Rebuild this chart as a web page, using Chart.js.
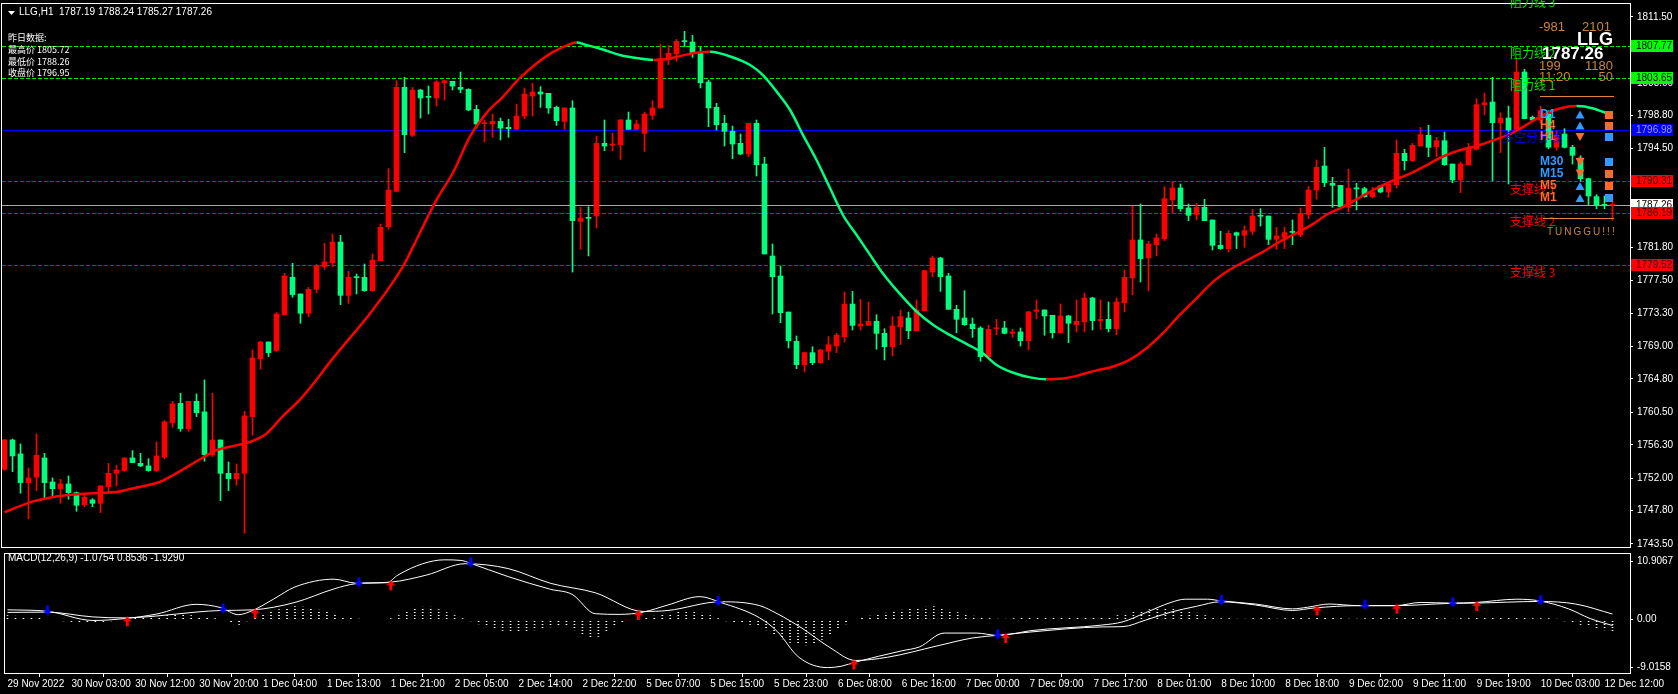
<!DOCTYPE html>
<html>
<head>
<meta charset="utf-8">
<script src="https://cdn.jsdelivr.net/npm/chart.js@4.4.0/dist/chart.umd.min.js"></script>
<style>
html,body{margin:0;padding:0;background:#000;}
#wrap{position:relative;width:1678px;height:694px;background:#000;overflow:hidden;}
#main{position:absolute;left:0;top:0;}
#macd{position:absolute;left:0;top:549px;}
</style>
</head>
<body>
<div id="wrap">
<canvas id="main" width="1678" height="549"></canvas>
<canvas id="macd" width="1678" height="145"></canvas>
</div>
<script>
// ---- data (H1 bars, index 0 = first bar on the left) ----
const xLabels = ['29 Nov 2022','30 Nov 03:00','30 Nov 12:00','30 Nov 20:00','1 Dec 04:00','1 Dec 13:00',
  '1 Dec 21:00','2 Dec 05:00','2 Dec 14:00','2 Dec 22:00','5 Dec 07:00','5 Dec 15:00','5 Dec 23:00',
  '6 Dec 08:00','6 Dec 16:00','7 Dec 00:00','7 Dec 09:00','7 Dec 17:00','8 Dec 01:00','8 Dec 10:00',
  '8 Dec 18:00','9 Dec 02:00','9 Dec 11:00','9 Dec 19:00','10 Dec 03:00','12 Dec 12:00'];

const opens = [
  1753.14,1756.92,1755.12,1751.42,1752.11,1754.60,1751.50,1750.64,1751.25,1750.13,
  1748.58,1749.18,1748.75,1750.90,1752.62,1752.97,1754.60,1753.91,1753.57,1752.97,
  1754.69,1759.16,1761.65,1758.39,1761.91,1760.54,1755.03,1756.92,1752.62,1751.93,
  1752.62,1759.93,1767.42,1769.57,1768.45,1773.10,1777.91,1775.76,1773.27,1776.36,
  1779.29,1779.80,1782.46,1775.58,1777.95,1777.91,1776.19,1780.06,1784.44,1789.00,
  1802.42,1796.23,1802.08,1801.18,1801.05,1803.02,1803.20,1802.42,1802.16,1799.58,
  1797.74,1797.69,1798.03,1797.26,1797.00,1798.72,1801.30,1801.82,1801.65,1799.84,
  1798.03,1799.76,1785.13,1785.60,1785.82,1795.20,1794.94,1795.02,1798.21,1797.00,
  1796.49,1798.81,1799.76,1806.03,1806.72,1808.38,1808.27,1806.89,1803.11,1799.84,
  1797.78,1796.74,1795.20,1793.82,1797.78,1792.53,1780.66,1778.08,1773.43,1769.65,
  1766.64,1768.19,1766.89,1768.36,1769.05,1770.25,1774.46,1771.63,1771.71,1772.23,
  1770.68,1768.96,1771.54,1772.66,1771.02,1773.60,1778.59,1780.40,1778.08,1773.78,
  1772.66,1771.88,1771.37,1767.67,1771.27,1771.37,1770.68,1770.86,1769.74,1773.52,
  1773.70,1773.01,1770.77,1772.92,1771.80,1772.15,1775.24,1772.32,1772.49,1771.29,
  1774.64,1777.82,1782.73,1780.41,1782.13,1782.90,1787.89,1789.44,1786.86,1786.00,
  1786.94,1785.31,1782.04,1781.61,1783.67,1783.33,1783.85,1785.85,1785.82,1782.81,
  1782.99,1783.80,1783.42,1786.00,1789.18,1792.27,1790.04,1789.78,1786.94,1789.38,
  1789.35,1788.32,1789.69,1788.92,1789.86,1793.91,1792.96,1794.85,1796.23,1794.77,
  1795.54,1792.53,1790.47,1792.44,1794.42,1800.19,1800.53,1797.86,1798.47,1797.00,
  1804.40,1798.55,1798.20,1799.00,1794.68,1796.40,1794.68,1793.30,1790.64,1788.32,
  1787.30,1787.19];
const highs = [
  1757.00,1757.05,1756.41,1753.31,1757.70,1755.20,1752.02,1751.85,1752.28,1750.21,
  1750.04,1749.35,1750.99,1753.91,1753.65,1754.60,1755.55,1755.20,1754.51,1756.67,
  1759.42,1761.91,1762.94,1761.91,1762.86,1764.67,1762.94,1756.92,1754.08,1753.83,
  1760.62,1768.54,1769.65,1769.57,1773.35,1778.43,1779.72,1775.76,1776.62,1779.55,
  1782.30,1783.50,1783.33,1778.68,1778.34,1779.63,1780.92,1784.79,1791.93,1803.28,
  1803.71,1802.42,1802.16,1802.59,1803.28,1803.37,1803.20,1804.40,1802.25,1800.10,
  1798.21,1798.98,1798.46,1798.29,1800.27,1802.34,1802.94,1802.51,1801.65,1800.01,
  1799.76,1800.70,1786.94,1787.02,1796.14,1798.21,1796.49,1798.29,1799.24,1798.21,
  1799.24,1800.70,1808.01,1807.84,1808.62,1809.65,1809.13,1807.58,1803.37,1800.36,
  1798.81,1797.43,1796.40,1797.78,1798.21,1793.39,1782.21,1779.37,1773.43,1770.34,
  1768.27,1768.96,1768.62,1770.25,1770.68,1776.01,1776.10,1775.07,1774.72,1773.09,
  1771.28,1772.83,1773.69,1773.43,1774.98,1778.77,1780.66,1780.49,1778.42,1774.29,
  1776.19,1772.66,1771.54,1771.72,1772.49,1772.23,1771.20,1771.37,1773.52,1774.99,
  1773.70,1773.01,1774.47,1773.01,1774.99,1775.85,1775.33,1774.99,1774.73,1775.24,
  1778.86,1787.11,1787.37,1782.56,1783.50,1789.61,1790.30,1789.95,1787.37,1787.46,
  1787.98,1785.31,1783.85,1783.93,1783.76,1784.53,1786.68,1786.77,1785.82,1784.36,
  1784.36,1785.31,1786.86,1789.60,1793.05,1794.68,1790.81,1789.78,1791.84,1790.04,
  1789.52,1789.52,1789.78,1790.29,1795.63,1794.42,1795.20,1797.26,1797.52,1795.97,
  1796.66,1792.53,1792.79,1795.20,1800.96,1801.65,1803.71,1799.15,1800.01,1806.20,
  1804.75,1798.72,1800.00,1799.40,1796.80,1797.09,1794.94,1793.60,1790.72,1788.57,
  1788.40,1788.24];
const lows = [
  1753.00,1752.84,1750.04,1746.77,1750.39,1749.44,1749.61,1748.75,1749.27,1747.72,
  1748.32,1748.32,1747.55,1750.21,1750.99,1752.88,1754.00,1753.48,1752.88,1752.88,
  1754.51,1758.56,1758.04,1758.04,1759.94,1754.17,1754.77,1749.10,1750.39,1751.07,
  1744.88,1757.53,1766.04,1767.68,1768.36,1773.10,1775.33,1771.98,1772.84,1775.93,
  1778.94,1779.28,1774.38,1774.55,1775.76,1776.10,1776.10,1780.06,1784.10,1788.92,
  1793.99,1796.06,1798.46,1798.98,1800.01,1800.79,1802.08,1801.73,1799.41,1797.17,
  1795.37,1795.97,1795.63,1795.97,1797.00,1798.38,1798.72,1799.84,1799.07,1797.52,
  1797.00,1778.59,1781.52,1780.66,1784.27,1794.25,1794.25,1793.13,1797.00,1797.00,
  1794.16,1798.29,1799.76,1805.35,1805.78,1807.67,1806.29,1802.34,1797.35,1796.92,
  1794.85,1793.22,1793.73,1793.48,1790.98,1780.92,1773.17,1772.06,1768.79,1766.12,
  1765.69,1766.64,1766.81,1767.24,1768.19,1769.56,1771.11,1771.11,1771.71,1768.62,
  1767.24,1767.76,1769.22,1769.99,1771.02,1773.60,1777.99,1776.10,1773.78,1770.77,
  1771.71,1770.16,1767.07,1767.67,1770.51,1770.60,1770.17,1769.05,1768.53,1772.58,
  1770.43,1770.08,1770.77,1769.48,1770.86,1770.86,1771.11,1771.20,1770.86,1770.51,
  1773.44,1775.67,1777.31,1776.19,1780.66,1782.64,1786.17,1786.43,1785.22,1785.31,
  1785.22,1781.44,1781.52,1781.18,1781.61,1781.78,1783.42,1784.53,1782.13,1781.52,
  1781.61,1782.13,1783.16,1785.48,1788.00,1789.61,1786.94,1786.94,1786.34,1786.60,
  1788.23,1788.14,1788.83,1788.23,1789.43,1791.76,1792.87,1794.85,1793.48,1793.48,
  1792.36,1790.12,1788.83,1792.44,1794.34,1798.90,1790.38,1793.99,1789.95,1796.83,
  1798.38,1798.00,1797.80,1794.50,1794.30,1794.60,1792.53,1790.30,1787.28,1786.77,
  1786.77,1785.27];
const closes = [
  1756.92,1754.86,1751.42,1752.02,1754.94,1751.42,1750.64,1751.25,1750.13,1748.49,
  1749.53,1748.75,1750.99,1752.62,1753.05,1754.60,1754.00,1753.57,1752.97,1754.86,
  1759.25,1761.57,1758.39,1761.91,1760.45,1755.03,1756.92,1752.62,1751.93,1752.62,
  1760.02,1767.50,1769.57,1768.19,1773.18,1778.08,1775.68,1773.27,1776.36,1779.46,
  1779.89,1782.46,1775.58,1777.91,1777.87,1776.19,1780.14,1784.36,1789.17,1802.42,
  1796.31,1802.08,1801.05,1801.13,1803.11,1803.28,1802.59,1802.16,1799.50,1797.69,
  1797.80,1798.03,1797.17,1797.09,1798.72,1801.56,1801.82,1801.56,1799.76,1798.12,
  1799.76,1785.22,1785.56,1785.52,1795.20,1794.85,1795.11,1798.21,1797.00,1797.69,
  1798.98,1799.76,1806.12,1806.81,1808.36,1808.32,1806.81,1803.02,1799.76,1797.60,
  1796.74,1795.11,1793.82,1797.78,1792.44,1780.92,1777.99,1773.35,1769.73,1766.64,
  1768.19,1766.89,1768.53,1769.22,1770.42,1774.46,1771.71,1771.88,1772.23,1770.68,
  1768.96,1771.63,1772.83,1771.02,1773.69,1778.77,1780.40,1777.99,1773.78,1772.49,
  1771.80,1771.28,1767.67,1771.20,1771.31,1770.68,1770.86,1769.74,1773.44,1773.70,
  1772.92,1770.77,1772.92,1771.98,1772.23,1775.24,1772.32,1772.49,1771.29,1774.73,
  1777.91,1782.73,1780.32,1782.21,1782.99,1788.06,1789.44,1786.77,1785.91,1786.94,
  1785.22,1782.04,1781.61,1783.59,1783.33,1783.93,1785.82,1785.79,1782.81,1783.24,
  1783.67,1783.70,1786.17,1789.18,1792.10,1790.12,1789.78,1787.03,1789.43,1789.32,
  1788.32,1788.92,1788.92,1789.95,1793.91,1792.96,1794.94,1796.32,1794.68,1795.54,
  1792.44,1790.47,1792.53,1794.68,1800.19,1800.44,1797.86,1798.47,1796.92,1804.40,
  1798.38,1798.21,1799.40,1794.70,1796.23,1794.68,1793.65,1790.64,1788.40,1787.20,
  1787.20,1787.26];

// smoothed moving average, read at these bar positions
const maIdx = [0,3.6,7.7,11.9,14,16.1,19.4,21.1,24.4,26.5,28.6,30.2,32.7,34.8,36.9,39,40.7,46.1,49.8,51.9,
  54,56.1,58.2,60.25,62.3,64.4,66.5,68.6,70.7,71.5,72.7,74.8,76.9,79,81.1,82.7,84.8,86.5,88.2,91,
  93.2,94.8,96.5,98.2,99.8,101.5,103.2,104.8,106.5,108.2,109.8,111.9,114,116.1,118.2,120.3,122.3,124,126.1,128.2,
  130.25,132.3,134.4,136.5,138.6,140.7,142.75,144.8,146.9,149,151.1,153.1,155.2,157.3,159.4,161.5,163.6,165.2,167.3,169.4,
  171.5,173.6,175.7,177.8,179.8,181.9,184,186.1,188.2,190.2,192.3,194.4,196.5,198.6,200.3];
const maVal = [1747.6,1749.0,1749.8,1750.1,1750.2,1750.7,1751.5,1752.4,1754.4,1755.6,1756.15,1756.5,1757.7,1760.0,1762.1,1764.7,1767.0,1773.8,1779.3,1783.6,
  1787.9,1791.5,1796.1,1799.1,1801.2,1803.6,1805.5,1807.0,1808.0,1808.2,1807.9,1807.3,1806.6,1806.2,1805.95,1806.05,1806.55,1806.9,1807.0,1806.3,
  1805.3,1804.0,1801.9,1799.5,1796.3,1793.05,1789.4,1785.95,1783.4,1780.8,1778.4,1775.8,1773.5,1771.75,1770.45,1769.3,1768.1,1766.6,1765.6,1765.0,
  1764.75,1764.85,1765.3,1765.9,1766.4,1767.3,1768.75,1770.7,1773.05,1775.2,1777.35,1778.85,1780.05,1781.2,1782.5,1783.6,1784.8,1785.95,1787.0,1788.2,
  1789.4,1790.4,1791.3,1792.4,1793.5,1794.3,1794.85,1795.6,1796.4,1797.55,1798.85,1799.7,1800.0,1799.7,1799.05];

// MACD(12,26,9): main line, signal line, histogram
const macdIdx = [0,4.9,10.7,14.7,18.7,23.6,26.7,28.9,30.7,33.3,36,40.9,43.6,47.5,48.9,52,54.7,56.9,57.8,62.7,
  68,70.7,73.6,76.7,79.6,82.7,86.7,89.3,94.2,96.4,99.1,102.7,104.4,106.2,112,114.2,117.3,121.3,124,125.3,
  128,137,139.7,142.5,145.7,147.5,150.3,151.9,156.3,160.9,162.8,165.5,169.2,173.8,177,180.7,183.9,189,191.8,195.5,198.2,201];
const macdVal = [1.56,1.34,-0.22,0.10,0.86,2.48,1.93,0.75,1.45,3.34,5.39,6.69,6.04,6.10,7.39,9.28,9.93,9.82,9.44,7.12,
  5.0,4.15,0.91,0.80,1.18,2.37,3.77,2.80,0.21,-2.06,-6.38,-8.11,-7.89,-7.19,-5.30,-4.65,-2.33,-2.33,-2.71,-2.60,
  -1.95,-1.0,-0.44,1.07,2.80,3.34,3.34,3.07,2.53,1.72,1.99,2.53,2.26,2.26,2.80,2.69,2.80,3.34,3.07,1.72,0.10,-1.0754];
const sigIdx = [0,4.9,10.7,14.7,18.7,23.6,26.7,30.7,36,40.9,43.6,48,52.5,57.3,62.7,68,73.6,79.6,82.7,89.3,
  94.2,96.4,99.5,103,106.2,110.2,116.4,120.9,124,128,137.2,139.7,142.5,145.7,148.9,151.9,156.3,160.9,163.7,169.2,
  173.8,180.7,183.9,191.8,196.4,201];
const sigVal = [1.13,1.18,0.37,0.21,0.53,1.18,1.45,1.56,2.80,5.07,5.93,6.20,7.39,9.28,8.47,6.0,4.42,1.29,1.45,2.91,
  2.26,0.91,-1.52,-4.76,-6.92,-6.38,-4.49,-3.14,-2.71,-2.17,-1.3,-1.25,-0.17,1.18,2.15,2.91,2.37,1.45,1.88,2.26,
  2.26,2.64,2.69,2.96,2.53,0.8536];
const hist = [
  0.6,0.5,0.4,0.3,0.2,-0.1,-0.2,-0.3,-0.4,-0.5,
  -0.5,-0.5,-0.4,-0.3,-0.1,0.1,0.2,0.3,0.4,0.5,
  0.6,0.7,0.7,0.6,0.4,0.2,0.1,-0.2,-0.6,-0.9,
  -0.3,0.3,0.8,1.2,1.6,1.9,2.1,2.0,1.8,1.5,
  1.2,0.8,0.4,0.2,0.0,-0.1,-0.1,-0.1,0.1,0.6,
  1.2,1.7,2.0,2.0,1.6,1.1,0.6,0.1,-0.3,-0.8,
  -1.2,-1.6,-1.9,-2.1,-2.1,-2.0,-1.8,-1.6,-1.3,-1.1,
  -1.2,-1.8,-2.6,-3.2,-2.9,-2.0,-1.2,-0.6,-0.2,0.0,
  0.2,0.5,0.8,1.0,1.2,1.3,1.3,1.0,0.6,0.1,
  -0.3,-0.5,-0.7,-0.9,-1.2,-1.8,-2.6,-3.3,-3.9,-4.2,
  -4.3,-4.0,-3.4,-2.5,-1.6,-0.8,-0.2,0.2,0.5,0.8,
  1.0,1.3,1.5,1.7,1.9,2.0,2.1,1.9,1.5,1.1,
  0.8,0.5,0.3,0.1,0.0,0.0,0.1,0.2,0.2,0.3,
  0.3,0.3,0.3,0.3,0.3,0.3,0.3,0.3,0.4,0.6,
  0.9,1.2,1.4,1.6,1.8,1.9,2.0,1.8,1.5,1.0,
  0.6,0.3,0.1,0.1,0.0,0.0,0.1,0.1,0.1,0.0,
  0.1,0.2,0.2,0.1,0.2,0.3,0.2,0.1,0.0,0.0,
  0.1,0.2,0.2,0.1,0.1,0.2,0.3,0.3,0.2,0.2,
  0.1,0.0,0.1,0.1,0.2,0.3,0.3,0.3,0.3,0.3,
  0.2,0.1,0.1,0.1,0.0,-0.3,-0.6,-0.9,-1.2,-1.5,
  -1.8,-1.929];
const sellIdx = [5,27,44,58,89,124,152,170,181,192];
const sellVal = [1.3,1.6,6.0,9.35,2.85,-2.7,3.0,2.26,2.66,3.0];
const buyIdx = [15,31,48,79,106,125,164,174,184];
const buyVal = [0.15,1.5,6.17,1.2,-7.1,-2.65,1.95,2.26,2.7];

const priceTicks = [1743.50,1747.80,1752.00,1756.30,1760.50,1764.80,1769.00,1773.30,1777.50,
  1781.80,1786.00,1790.30,1794.50,1798.80,1803.00,1807.30,1811.50];
const macdAxis = [10.9067, 0, -9.0158];

const levelPrices = [1814.46,1807.77,1803.65,1796.98,1790.31,1786.19,1779.52];
const levelNames = ['阻力线 3','阻力线 2','阻力线 1','多空分界线','支撑线 1','支撑线 2','支撑线 3'];

const header = 'LLG,H1  1787.19 1788.24 1785.27 1787.26';
const yesterday = ['昨日数据:','最高价 1805.72','最低价 1788.26','收盘价 1796.95'];
const macdTitle = 'MACD(12,26,9) -1.0754 0.8536 -1.9290';
const symbol = 'LLG';
const statsLeft = ['-981','199','11:20'];
const statsRight = ['2101','1180','50'];
const tfNames = ['D1','H4','H1','M30','M15','M5','M1'];
const tfTrend = [1,1,-1,-1,-1,1,1];     // triangle up / down
const tfBox = [-1,-1,1,1,-1,-1,1];      // square blue / orange
const tfText = [1,-1,-1,1,1,-1,-1];     // label blue / orange
const waitText = 'TUNGGU!!!';

// ---- styles ----
const RED = '#FF0000', GRN = '#00FF7F', WHITE = '#FFFFFF';
const LIME = '#00E600', BLUE = '#0000FF';
const TFBLUE = '#3399FF', TFORANGE = '#FF6A28', BROWN = '#C8843C';
const LAT = '"Liberation Sans", Arial, sans-serif';
const CJK = '"Noto Sans CJK SC", sans-serif';
const levelStyle = [
  {color: LIME, dash: [4, 2], lx: 1510, tag: '#00FF00', fg: '#000'},
  {color: LIME, dash: [4, 2], lx: 1510, tag: '#00FF00', fg: '#000'},
  {color: LIME, dash: [4, 2], lx: 1510, tag: '#00FF00', fg: '#000'},
  {color: BLUE, dash: [], lx: 1502, tag: '#0000FF', fg: '#9999FF'},
  {color: RED, dash: [4, 2], lx: 1510, tag: '#FF0000', fg: '#400000'},
  {color: RED, dash: [4, 2], lx: 1510, tag: '#FF0000', fg: '#400000'},
  {color: RED, dash: [4, 2], lx: 1510, tag: '#FF0000', fg: '#400000'}
];
const xMin = -0.3125, xMax = 203.1875;   // 8 px per bar
const candleColor = closes.map((c, i) => c >= opens[i] ? RED : GRN);
const last = closes.length - 1;

function txt(ctx, s, x, y, font, color, align) {
  ctx.font = font; ctx.fillStyle = color;
  ctx.textAlign = align || 'left'; ctx.textBaseline = 'middle';
  ctx.fillText(s, x, y);
}

const mainDeco = {
  id: 'mainDeco',
  beforeDraw(chart) {
    const c = chart.ctx; c.save(); c.fillStyle = '#000'; c.fillRect(0, 0, chart.width, chart.height); c.restore();
  },
  beforeDatasetsDraw(chart) {
    const {ctx, chartArea: a, scales: {y}} = chart;
    ctx.save();
    ctx.beginPath(); ctx.rect(a.left, a.top, a.right - a.left, a.bottom - a.top); ctx.clip();
    ctx.lineWidth = 1;
    levelPrices.forEach((p, k) => {
      const py = Math.round(y.getPixelForValue(p)) + 0.5;
      ctx.strokeStyle = levelStyle[k].color; ctx.setLineDash(levelStyle[k].dash);
      ctx.beginPath(); ctx.moveTo(a.left, py); ctx.lineTo(a.right, py); ctx.stroke();
    });
    const cy = Math.round(y.getPixelForValue(closes[last])) + 0.5;
    ctx.setLineDash([]); ctx.strokeStyle = '#A8A8A8';
    ctx.beginPath(); ctx.moveTo(a.left, cy); ctx.lineTo(a.right, cy); ctx.stroke();
    ctx.restore();
  },
  afterDraw(chart) {
    const {ctx, chartArea: a, scales: {y}} = chart;
    ctx.save();
    // frame
    ctx.strokeStyle = WHITE; ctx.lineWidth = 1; ctx.setLineDash([]);
    ctx.strokeRect(a.left - 0.5, a.top - 0.5, a.right - a.left + 1, a.bottom - a.top + 1);

    // level names
    levelPrices.forEach((p, k) => {
      const py = y.getPixelForValue(p);
      txt(ctx, levelNames[k], levelStyle[k].lx, py + 8, '12px ' + CJK, levelStyle[k].color);
    });

    // price tags on the axis
    const tag = (p, bg, fg) => {
      const py = Math.round(y.getPixelForValue(p));
      if (py < a.top || py > a.bottom) return;
      ctx.fillStyle = bg; ctx.fillRect(a.right + 1, py - 6, 42, 12);
      txt(ctx, p.toFixed(2), a.right + 6, py + 0.5, '10px ' + LAT, fg);
    };
    tag(closes[last], WHITE, '#000');
    levelPrices.forEach((p, k) => tag(p, levelStyle[k].tag, levelStyle[k].fg));

    // header, top left
    ctx.fillStyle = WHITE;
    ctx.beginPath(); ctx.moveTo(8, 11); ctx.lineTo(15, 11); ctx.lineTo(11.5, 15); ctx.closePath(); ctx.fill();
    txt(ctx, header, 19, 12.5, '10px ' + LAT, WHITE);
    const yy = [37.5, 50, 61.5, 72.5];
    yesterday.forEach((s, k) => txt(ctx, s, 8, yy[k], '9px ' + CJK, WHITE));

    // info block, top right
    txt(ctx, statsLeft[0], 1539, 27, '13px ' + LAT, BROWN);
    txt(ctx, statsRight[0], 1611, 27, '13px ' + LAT, BROWN, 'right');
    txt(ctx, symbol, 1613, 40, 'bold 18px ' + LAT, WHITE, 'right');
    txt(ctx, closes[last].toFixed(2), 1542, 54, 'bold 17px ' + LAT, WHITE);
    txt(ctx, statsLeft[1], 1539, 66, '13px ' + LAT, BROWN);
    txt(ctx, statsRight[1], 1613, 66, '13px ' + LAT, BROWN, 'right');
    txt(ctx, statsLeft[2], 1539, 77, '13px ' + LAT, BROWN);
    txt(ctx, statsRight[2], 1613, 77, '13px ' + LAT, BROWN, 'right');
    ctx.strokeStyle = '#E0823C';
    ctx.beginPath(); ctx.moveTo(1540, 96.5); ctx.lineTo(1614, 96.5); ctx.stroke();

    const rowY = [114.5, 125.5, 137, 162, 173.5, 186, 198];
    tfNames.forEach((n, k) => {
      const ry = rowY[k];
      txt(ctx, n, 1540, ry, 'bold 12px ' + LAT, tfText[k] > 0 ? TFBLUE : TFORANGE);
      ctx.fillStyle = tfTrend[k] > 0 ? TFBLUE : TFORANGE;
      ctx.beginPath();
      if (tfTrend[k] > 0) { ctx.moveTo(1580, ry - 4); ctx.lineTo(1584.5, ry + 4); ctx.lineTo(1575.5, ry + 4); }
      else { ctx.moveTo(1575.5, ry - 4); ctx.lineTo(1584.5, ry - 4); ctx.lineTo(1580, ry + 4); }
      ctx.closePath(); ctx.fill();
      ctx.fillStyle = tfBox[k] > 0 ? TFBLUE : TFORANGE;
      ctx.fillRect(1605, Math.round(ry) - 4, 8, 8);
    });
    ctx.strokeStyle = '#E0823C';
    ctx.beginPath(); ctx.moveTo(1543, 218.5); ctx.lineTo(1614, 218.5); ctx.stroke();
    ctx.letterSpacing = '2px';
    txt(ctx, waitText, 1547, 232, '10px ' + LAT, BROWN);
    ctx.letterSpacing = '0px';
    ctx.restore();
  }
};

new Chart(document.getElementById('main'), {
  type: 'bar',
  data: {
    datasets: [
      {
        type: 'line',
        data: maIdx.map((x, k) => ({x: x, y: maVal[k]})),
        borderColor: RED, borderWidth: 2.5, pointRadius: 0,
        cubicInterpolationMode: 'monotone',
        segment: {borderColor: c => c.p1.parsed.y >= c.p0.parsed.y ? RED : GRN},
        order: 0
      },
      {
        data: opens.map((o, i) => ({x: i, y: [lows[i], highs[i]]})),
        backgroundColor: candleColor, barThickness: 1, grouped: false, order: 2
      },
      {
        data: opens.map((o, i) => ({x: i, y: [o, closes[i]]})),
        backgroundColor: candleColor, barThickness: 5, minBarLength: 1, grouped: false, order: 1
      }
    ]
  },
  options: {
    responsive: false, animation: false, events: [],
    layout: {padding: {left: 2, top: 4, right: 0, bottom: 2}},
    plugins: {legend: {display: false}, tooltip: {enabled: false}},
    scales: {
      x: {type: 'linear', min: xMin, max: xMax, offset: false, display: false},
      y: {
        position: 'right', min: 1743.11, max: 1813.177,
        afterBuildTicks: s => { s.ticks = priceTicks.map(v => ({value: v})); },
        afterFit: s => { s.width = 48; s.paddingTop = 0; s.paddingBottom = 0; },
        ticks: {color: WHITE, font: {family: LAT, size: 10}, padding: 4, callback: v => v.toFixed(2)},
        grid: {drawOnChartArea: false, drawTicks: true, tickLength: 3, color: WHITE},
        border: {display: false}
      }
    }
  },
  plugins: [mainDeco]
});

// ---- MACD window ----
const macdCanvas = document.getElementById('macd');
const dot = document.createElement('canvas'); dot.width = 1; dot.height = 3;
const dctx = dot.getContext('2d'); dctx.fillStyle = WHITE; dctx.fillRect(0, 0, 1, 1);
const dotPattern = macdCanvas.getContext('2d').createPattern(dot, 'repeat');

function arrow(color, down) {
  const c = document.createElement('canvas'); c.width = 9; c.height = 24;
  const g = c.getContext('2d'); g.fillStyle = color; g.beginPath();
  if (down) { g.fillRect(3, 6, 3, 5); g.moveTo(0, 11); g.lineTo(9, 11); g.lineTo(4.5, 16); }
  else { g.fillRect(3, 15, 3, 5); g.moveTo(4.5, 10); g.lineTo(9, 15); g.lineTo(0, 15); }
  g.closePath(); g.fill();
  return c;
}

const macdDeco = {
  id: 'macdDeco',
  beforeDraw(chart) {
    const c = chart.ctx; c.save(); c.fillStyle = '#000'; c.fillRect(0, 0, chart.width, chart.height); c.restore();
  },
  afterDraw(chart) {
    const {ctx, chartArea: a, scales: {y}} = chart;
    ctx.save();
    ctx.strokeStyle = WHITE; ctx.lineWidth = 1;
    ctx.strokeRect(a.left - 0.5, a.top - 0.5, a.right - a.left + 1, a.bottom - a.top + 1);
    txt(ctx, macdTitle, 8, 9, '10px ' + LAT, WHITE);
    macdAxis.forEach(v => {
      const py = Math.round(Math.min(Math.max(y.getPixelForValue(v), a.top + 7), a.bottom - 6)) + 0.5;
      ctx.beginPath(); ctx.moveTo(a.right, py); ctx.lineTo(a.right + 3, py); ctx.stroke();
      txt(ctx, v === 0 ? '0.00' : v.toFixed(4), a.right + 7, py, '10px ' + LAT, WHITE);
    });
    ctx.restore();
  }
};

new Chart(macdCanvas, {
  type: 'bar',
  data: {
    datasets: [
      {
        type: 'line', data: sellIdx.map((x, k) => ({x: x, y: sellVal[k]})),
        showLine: false, pointStyle: arrow('#0000FF', true), pointRadius: 4, order: 0
      },
      {
        type: 'line', data: buyIdx.map((x, k) => ({x: x, y: buyVal[k]})),
        showLine: false, pointStyle: arrow('#FF0000', false), pointRadius: 4, order: 0
      },
      {
        type: 'line', data: macdIdx.map((x, k) => ({x: x, y: macdVal[k]})),
        borderColor: WHITE, borderWidth: 1, pointRadius: 0, cubicInterpolationMode: 'monotone', order: 1
      },
      {
        type: 'line', data: sigIdx.map((x, k) => ({x: x, y: sigVal[k]})),
        borderColor: WHITE, borderWidth: 1, pointRadius: 0, cubicInterpolationMode: 'monotone', order: 2
      },
      {
        data: hist.map((v, i) => ({x: i, y: v})),
        backgroundColor: dotPattern, barThickness: 1, grouped: false, order: 3
      }
    ]
  },
  options: {
    responsive: false, animation: false, events: [],
    layout: {padding: {left: 2, top: 1, right: 0, bottom: 0}},
    plugins: {legend: {display: false}, tooltip: {enabled: false}},
    scales: {
      x: {
        type: 'linear', min: xMin, max: xMax, offset: false,
        afterBuildTicks: s => { s.ticks = xLabels.map((l, k) => ({value: k * 8})); },
        afterFit: s => { s.height = 21; s.paddingLeft = 0; s.paddingRight = 0; },
        ticks: {color: WHITE, font: {family: LAT, size: 10}, padding: 1, align: 'start',
          autoSkip: false, maxRotation: 0, minRotation: 0, callback: v => xLabels[Math.round(v / 8)]},
        grid: {drawOnChartArea: false, drawTicks: true, tickLength: 4, color: WHITE},
        border: {display: false}
      },
      y: {
        position: 'right', min: -9.0158, max: 10.9067,
        afterFit: s => { s.width = 48; s.paddingTop = 0; s.paddingBottom = 0; },
        ticks: {display: false},
        grid: {drawOnChartArea: false, drawTicks: false},
        border: {display: false}
      }
    }
  },
  plugins: [macdDeco]
});
</script>
</body>
</html>
